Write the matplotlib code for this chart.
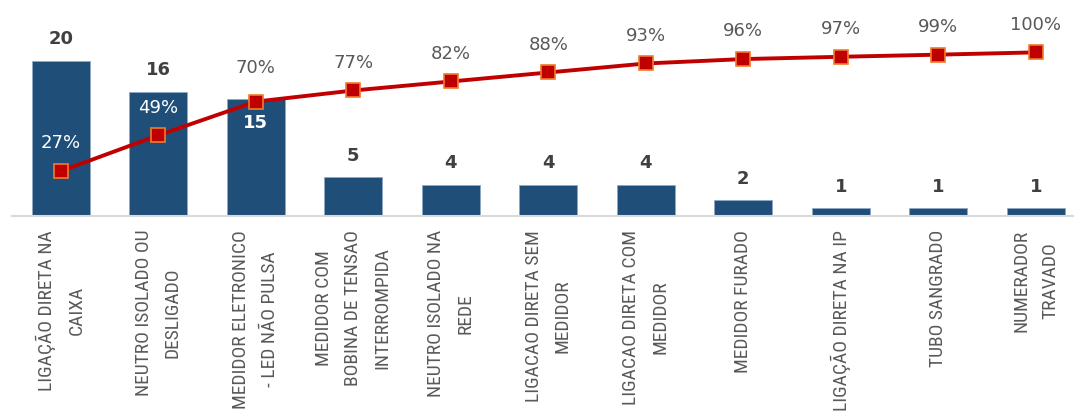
import matplotlib
matplotlib.use("Agg")
import matplotlib.pyplot as plt
from matplotlib import font_manager

#--- DATA ---#

categories = ["LIGAÇÃO DIRETA NA\nCAIXA",
              "NEUTRO ISOLADO OU\nDESLIGADO",
              "MEDIDOR ELETRONICO\n- LED NÃO PULSA",
              "MEDIDOR COM\nBOBINA DE TENSAO\nINTERROMPIDA",
              "NEUTRO ISOLADO NA\nREDE",
              "LIGACAO DIRETA SEM\nMEDIDOR",
              "LIGACAO DIRETA COM\nMEDIDOR",
              "MEDIDOR FURADO",
              "LIGAÇÃO DIRETA NA IP",
              "TUBO SANGRADO",
              "NUMERADOR\nTRAVADO"]
counts = [20, 16, 15, 5, 4, 4, 4, 2, 1, 1, 1]
cum_pct = [27.4, 49.3, 69.9, 76.7, 82.2, 87.7, 93.2, 95.9, 97.3, 98.6, 100.0]
pct_labels = ["27%", "49%", "70%", "77%", "82%", "88%", "93%", "96%", "97%", "99%", "100%"]

#--- STYLE ---#

bar_color = "#1f4e79"
line_color = "#c00000"
marker_edge = "#f07c2a"

# narrow font for the rotated category names, if there is one
fonts = font_manager.fontManager.ttflist
names = {f.name for f in fonts}
condensed = {f.name for f in fonts if f.stretch in ("condensed", "semi-condensed", 600, 500)}
if "Liberation Sans Narrow" in names:
    tick_fp = font_manager.FontProperties(family="Liberation Sans Narrow", size=14.5)
elif "Roboto Condensed" in names:
    tick_fp = font_manager.FontProperties(family="Roboto Condensed", size=14)
elif "DejaVu Sans" in condensed:
    tick_fp = font_manager.FontProperties(family="DejaVu Sans", stretch="condensed", size=12.5)
else:
    tick_fp = font_manager.FontProperties(family="DejaVu Sans", size=11.5)

#--- PLOT ---#

fig = plt.figure(figsize=(10.74, 4.17), dpi=100)
ax = fig.add_axes([12.0/1074, 201.0/417, 1072.5/1074, 216.0/417])
ax2 = ax.twinx()

x = range(len(categories))
ax.bar(x, counts, width=0.59, color=bar_color, edgecolor="#8fa8c4", linewidth=0.6, zorder=2)
ax.set_xlim(-0.5, len(categories) - 0.5)
ax.set_ylim(0, 27.8)

ax2.plot(x, cum_pct, color=line_color, lw=2.8, marker="s", markersize=10.5,
         markerfacecolor=line_color, markeredgecolor=marker_edge, markeredgewidth=1.2, zorder=3)
ax2.set_ylim(0, 132)

for a in (ax, ax2):
    for s in a.spines.values():
        s.set_visible(False)
    a.set_yticks([])
ax.spines["bottom"].set_visible(True)
ax.spines["bottom"].set_color("#d9d9d9")
ax.spines["bottom"].set_linewidth(1.5)

ax.set_xticks(list(x))
ax.set_xticklabels(categories)
for t in ax.get_xticklabels():
    t.set_fontproperties(tick_fp)
    t.set_rotation(90)
    t.set_ha("center")
    t.set_va("top")
    t.set_multialignment("center")
    t.set_linespacing(1.8)
    t.set_color("#595959")
ax.tick_params(axis="x", length=0, pad=10)

# bar value labels
for i, v in enumerate(counts):
    if i == 2:
        ax.annotate(str(v), (i, v), xytext=(0, -17), textcoords="offset points",
                    ha="center", va="center", fontsize=13, fontweight="bold", color="white", zorder=5)
    else:
        ax.annotate(str(v), (i, v), xytext=(0, 15.5), textcoords="offset points",
                    ha="center", va="center", fontsize=13, fontweight="bold", color="#404040")

# cumulative percent labels
for i, (p, lab) in enumerate(zip(cum_pct, pct_labels)):
    dy = 24 if i == 2 else 20
    col = "white" if i < 2 else "#595959"
    ax2.annotate(lab, (i, p), xytext=(0, dy), textcoords="offset points",
                 ha="center", va="center", fontsize=13, color=col, zorder=5)

fig.savefig("out.png", dpi=100)
